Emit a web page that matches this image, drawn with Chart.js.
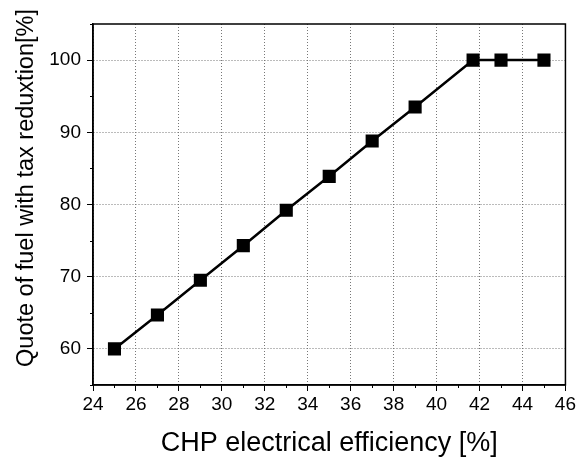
<!DOCTYPE html>
<html>
<head>
<meta charset="utf-8">
<script src="https://cdn.jsdelivr.net/npm/chart.js@4"></script>
<style>
  html, body { margin: 0; padding: 0; background: #fff; }
  #wrap { width: 578px; height: 461px; }
</style>
</head>
<body>
<div id="wrap"><canvas id="chart" width="578" height="461"></canvas></div>
<script>
// data
const efficiency = [25, 27, 29, 31, 33, 35, 37, 39, 41.7, 43, 45];
const fuelQuote = [60, 64.7, 69.5, 74.3, 79.2, 83.9, 88.8, 93.5, 100, 100, 100];
const xRange = [24, 46];
const yRange = [55, 105];
const xTitle = 'CHP electrical efficiency [%]';
const yTitle = 'Quote of fuel with tax reduxtion[%]';

const FONT = '"Liberation Sans", Arial, sans-serif';

// frame, minor ticks and y title
const framePlugin = {
    id: 'frame',
    afterDraw(chart) {
        const { ctx, chartArea: a, scales: { x, y } } = chart;
        ctx.save();
        ctx.strokeStyle = '#000';
        ctx.lineWidth = 1.5;
        ctx.strokeRect(a.left, a.top, a.right - a.left, a.bottom - a.top);

        ctx.lineWidth = 1;
        ctx.beginPath();
        for (let v = xRange[0] + 1; v < xRange[1]; v += 2) {
            const px = Math.round(x.getPixelForValue(v)) + 0.5;
            ctx.moveTo(px, a.bottom);
            ctx.lineTo(px, a.bottom + 3);
        }
        for (let v = yRange[0]; v <= yRange[1]; v += 10) {
            const py = Math.round(y.getPixelForValue(v)) + 0.5;
            ctx.moveTo(a.left, py);
            ctx.lineTo(a.left - 3, py);
        }
        ctx.stroke();

        ctx.fillStyle = '#000';
        ctx.font = '23.5px ' + FONT;
        ctx.textAlign = 'center';
        ctx.textBaseline = 'middle';
        ctx.translate(27, 188);
        ctx.rotate(-Math.PI / 2);
        ctx.fillText(yTitle, 0, 0);
        ctx.restore();
    }
};

const gridOpts = {
    color: '#777',
    lineWidth: 1,
    tickColor: '#000',
    tickLength: 6,
    tickWidth: 1
};

const chart = new Chart(document.getElementById('chart'), {
    type: 'scatter',
    data: {
        datasets: [{
            data: efficiency.map((v, i) => ({ x: v, y: fuelQuote[i] })),
            showLine: true,
            borderColor: '#000',
            backgroundColor: '#000',
            borderWidth: 2.5,
            pointStyle: 'rect',
            pointRadius: 7.5,
            pointHoverRadius: 7.5
        }]
    },
    options: {
        responsive: false,
        animation: false,
        layout: { padding: { top: 24, right: 12, left: 0, bottom: 0 } },
        plugins: { legend: { display: false }, tooltip: { enabled: false } },
        scales: {
            x: {
                type: 'linear',
                min: xRange[0],
                max: xRange[1],
                grid: gridOpts,
                border: { dash: [1, 2], color: '#000', width: 1.5 },
                ticks: {
                    stepSize: 2,
                    color: '#000',
                    padding: 2,
                    maxRotation: 0,
                    font: { family: FONT, size: 19 }
                },
                title: {
                    display: true,
                    text: xTitle,
                    color: '#000',
                    padding: { top: 2, bottom: 1 },
                    font: { family: FONT, size: 27 }
                },
                afterFit(s) { s.height = 76; }
            },
            y: {
                min: yRange[0],
                max: yRange[1],
                grid: gridOpts,
                border: { dash: [1, 2], color: '#000', width: 1.5 },
                ticks: {
                    stepSize: 10,
                    color: '#000',
                    padding: 6,
                    font: { family: FONT, size: 19 }
                },
                afterBuildTicks(s) {
                    s.ticks = [60, 70, 80, 90, 100].map(v => ({ value: v }));
                },
                afterFit(s) { s.width = 93; }
            }
        }
    },
    plugins: [framePlugin]
});
</script>
</body>
</html>
